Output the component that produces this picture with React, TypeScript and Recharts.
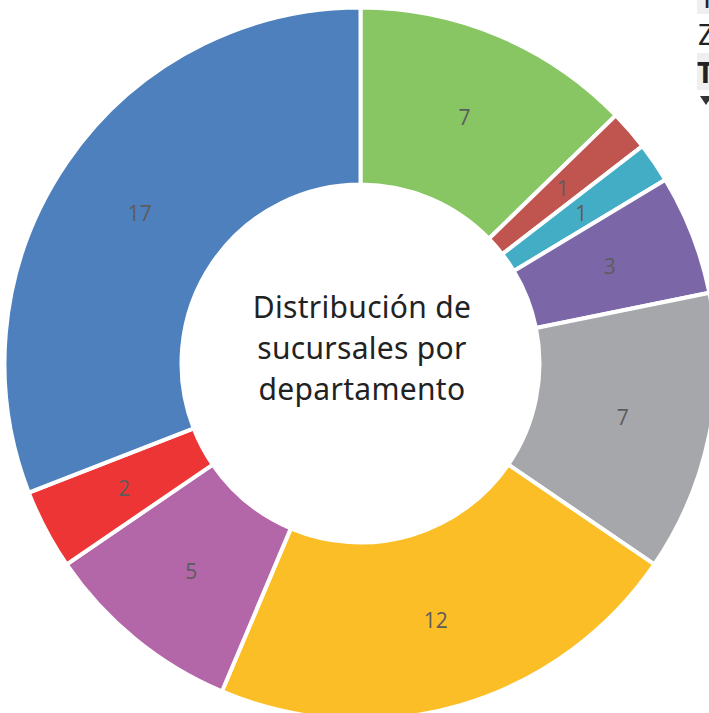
import React from "react";
import { PieChart, Pie, Cell, Label } from "recharts";

const departments = [
  "Guatemala",
  "Baja Verapaz",
  "Chimaltenango",
  "Escuintla",
  "Izabal",
  "Quetzaltenango",
  "Sacatepéquez",
  "San Marcos",
  "Alta Verapaz",
];
const branches = [7, 1, 1, 3, 7, 12, 5, 2, 17];
const colors = [
  "#87C663",
  "#C0554F",
  "#43ADC6",
  "#7B67A8",
  "#A6A7AA",
  "#FCBE27",
  "#B366A8",
  "#EE3536",
  "#4D80BC",
];
const centerLines = ["Distribución de", "sucursales por", "departamento"];
const sideRows = ["Totonicapán", "Zacapa", "Total"];

const data = departments.map((name, i) => ({ name, value: branches[i] }));

const RAD = Math.PI / 180;
const CX = 360.5;
const CY = 363.5;

const renderLabel = (props: any) => {
  const { cx, cy, midAngle, innerRadius, outerRadius, value } = props;
  const r = (innerRadius + outerRadius) / 2;
  const x = cx + r * Math.cos(-midAngle * RAD);
  const y = cy + r * Math.sin(-midAngle * RAD);
  return (
    <text
      x={x}
      y={y}
      fill="#5c5c5c"
      fontSize={21}
      fontFamily="'Open Sans', sans-serif"
      textAnchor="middle"
      dominantBaseline="central"
    >
      {value}
    </text>
  );
};

const renderCenter = () => {
  return (
    <text
      x={CX}
      y={CY}
      textAnchor="middle"
      fill="#222"
      fontSize={30}
      letterSpacing={0.3}
      fontFamily="'Noto Sans', sans-serif"
    >
      {centerLines.map((l, i) => (
        <tspan key={i} x={CX + 1.5} y={CY - 46 + i * 41}>
          {l}
        </tspan>
      ))}
    </text>
  );
};

export default function App() {
  return (
    <div
      style={{
        position: "fixed",
        left: 0,
        top: 0,
        width: 709,
        height: 713,
        overflow: "hidden",
        background: "#fff",
      }}
    >
      <PieChart width={709} height={713} margin={{ top: 0, right: 0, bottom: 0, left: 0 }}>
        <Pie
          data={data}
          dataKey="value"
          nameKey="name"
          cx={CX}
          cy={CY}
          innerRadius={179}
          outerRadius={356}
          startAngle={90}
          endAngle={-270}
          stroke="#fff"
          strokeWidth={4}
          label={renderLabel}
          labelLine={false}
          isAnimationActive={false}
        >
          {data.map((d, i) => (
            <Cell key={d.name} fill={colors[i]} />
          ))}
          <Label position="center" content={renderCenter} />
        </Pie>
      </PieChart>
      <div
        style={{
          position: "absolute",
          left: 697,
          top: -20,
          width: 200,
          fontFamily: "'Noto Sans', sans-serif",
          fontSize: 29,
          color: "#222",
          whiteSpace: "nowrap",
        }}
      >
        <div style={{ background: "#efefef", height: 34, lineHeight: "34px", paddingLeft: 2 }}>
          {sideRows[0]}
        </div>
        <div style={{ height: 39, lineHeight: "39px", paddingLeft: 1 }}>
          {sideRows[1]}
        </div>
        <div
          style={{
            background: "#efefef",
            height: 37,
            lineHeight: "37px",
            fontWeight: 700,
            paddingLeft: 0,
          }}
        >
          {sideRows[2]}
        </div>
        <svg width={20} height={20} style={{ display: "block", marginLeft: 3, marginTop: 6 }}>
          <path d="M0 0 L12 0 L6 9 Z" fill="#333" />
        </svg>
      </div>
    </div>
  );
}
